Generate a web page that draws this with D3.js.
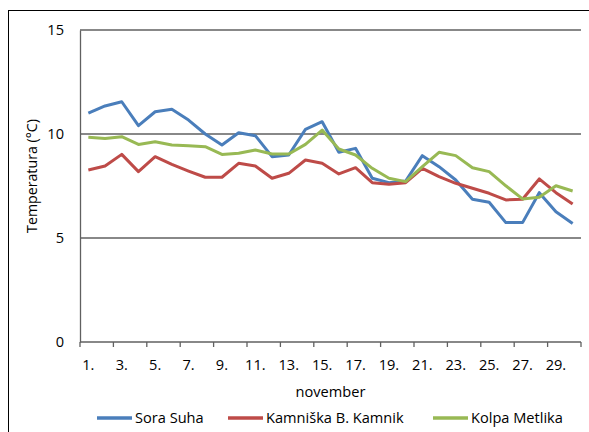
<!DOCTYPE html>
<html>
<head>
<meta charset="utf-8">
<script src="https://cdn.jsdelivr.net/npm/d3@7"></script>
<style>
  html, body { margin: 0; padding: 0; background: #fff; }
  svg { display: block; font-family: "Open Sans", "Noto Sans", sans-serif; }
</style>
</head>
<body>
<svg id="chart" width="589" height="432"></svg>
<script>
// Daily temperatures in November
const days = d3.range(1, 31);
const dayLabels = days.map(d => d + ".");
const yTicks = [0, 5, 10, 15];

const soraSuha = [11.0, 11.35, 11.55, 10.4, 11.07, 11.19, 10.67, 10.0, 9.47, 10.06,
  9.92, 8.91, 8.99, 10.22, 10.59, 9.12, 9.31, 7.87, 7.66, 7.74,
  8.96, 8.43, 7.79, 6.86, 6.72, 5.74, 5.74, 7.18, 6.26, 5.7];
const kamnik = [8.27, 8.46, 9.02, 8.19, 8.91, 8.54, 8.22, 7.92, 7.92, 8.59,
  8.46, 7.87, 8.11, 8.75, 8.59, 8.08, 8.38, 7.66, 7.58, 7.66,
  8.35, 7.95, 7.63, 7.39, 7.15, 6.83, 6.86, 7.84, 7.18, 6.63];
const kolpa = [9.84, 9.78, 9.87, 9.5, 9.63, 9.47, 9.44, 9.39, 9.02, 9.07,
  9.23, 9.04, 9.04, 9.5, 10.19, 9.28, 8.99, 8.35, 7.87, 7.71,
  8.43, 9.12, 8.96, 8.38, 8.19, 7.51, 6.88, 6.96, 7.51, 7.26];

const seriesNames = ["Sora Suha", "Kamniška B. Kamnik", "Kolpa Metlika"];
const seriesColors = ["#4A7EBB", "#BE4B48", "#98B954"];
const seriesValues = [soraSuha, kamnik, kolpa];

const FS = 14.6;
const svg = d3.select("#chart");
const plot = { left: 80, right: 581, top: 30, bottom: 342 };

// outer chart frame
svg.append("rect")
  .attr("x", 8.5).attr("y", 10.5)
  .attr("width", 640).attr("height", 460)
  .attr("fill", "none").attr("stroke", "#000").attr("stroke-width", 1);

const x = d3.scaleBand().domain(days).range([plot.left, plot.right]).paddingInner(0).paddingOuter(0);
const y = d3.scaleLinear().domain([0, 15]).range([plot.bottom, plot.top]);

// horizontal gridlines
svg.append("g")
  .selectAll("line")
  .data(yTicks.filter(t => t > 0))
  .join("line")
  .attr("x1", plot.left).attr("x2", plot.right)
  .attr("y1", d => y(d)).attr("y2", d => y(d))
  .attr("stroke", "#606060").attr("stroke-width", 1.3);

// y axis
const yAxis = svg.append("g")
  .attr("transform", `translate(${plot.left},0)`)
  .call(d3.axisLeft(y).tickValues(yTicks).tickSize(0).tickPadding(16));
yAxis.select(".domain").attr("stroke", "#606060").attr("stroke-width", 1.3);
yAxis.selectAll("text").attr("font-size", FS).attr("fill", "#000")
  .attr("font-family", "Open Sans, sans-serif");

// x axis: ticks on every other category boundary
const boundaries = d3.range(0, 31, 2);
const xb = d3.scaleLinear().domain([0, 30]).range([plot.left, plot.right]);
svg.append("line")
  .attr("x1", plot.left).attr("x2", plot.right)
  .attr("y1", plot.bottom).attr("y2", plot.bottom)
  .attr("stroke", "#606060").attr("stroke-width", 1.3);
svg.append("g").selectAll("line")
  .data(boundaries).join("line")
  .attr("x1", d => xb(d)).attr("x2", d => xb(d))
  .attr("y1", plot.bottom).attr("y2", plot.bottom + 5)
  .attr("stroke", "#606060").attr("stroke-width", 1.3);
svg.append("g").selectAll("text")
  .data(days.filter(d => d % 2 === 1)).join("text")
  .attr("x", d => x(d) + x.bandwidth() / 2)
  .attr("y", 370)
  .attr("text-anchor", "middle")
  .attr("font-size", FS)
  .text(d => dayLabels[d - 1]);

// axis titles
svg.append("text")
  .attr("x", (plot.left + plot.right) / 2).attr("y", 397)
  .attr("text-anchor", "middle").attr("font-size", FS)
  .text("november");
svg.append("text")
  .attr("transform", "translate(37,176) rotate(-90)")
  .attr("text-anchor", "middle").attr("font-size", 14.2)
  .text("Temperatura (°C)");

// series lines
const line = d3.line()
  .x((d, i) => x(days[i]) + x.bandwidth() / 2)
  .y(d => y(d));
svg.append("g").selectAll("path")
  .data(seriesValues).join("path")
  .attr("d", d => line(d))
  .attr("fill", "none")
  .attr("stroke", (d, i) => seriesColors[i])
  .attr("stroke-width", 3)
  .attr("stroke-linejoin", "round");

// legend
const legendX = [97, 228, 433];
const lg = svg.append("g").selectAll("g")
  .data(seriesNames).join("g")
  .attr("transform", (d, i) => `translate(${legendX[i]},418)`);
lg.append("line")
  .attr("x1", 0).attr("x2", 35).attr("y1", 0).attr("y2", 0)
  .attr("stroke", (d, i) => seriesColors[i]).attr("stroke-width", 3.5);
lg.append("text")
  .attr("x", 38).attr("y", 5)
  .attr("font-size", FS)
  .text(d => d);
</script>
</body>
</html>
